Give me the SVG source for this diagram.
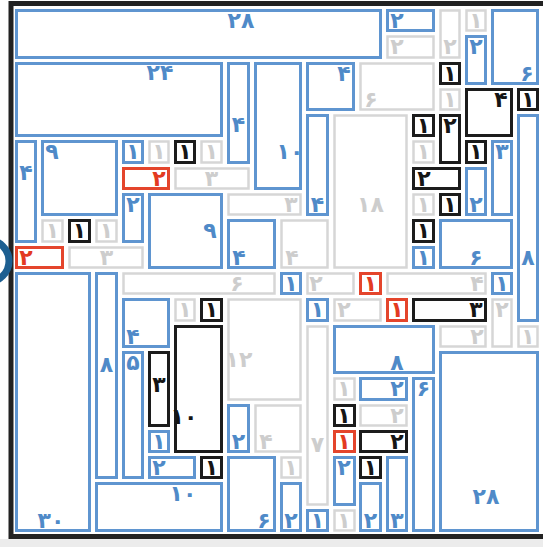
<svg xmlns="http://www.w3.org/2000/svg" width="543" height="547" viewBox="0 0 543 547">
<style>
rect{fill:none}
.b{stroke:#5f95d0;stroke-width:3}
.g{stroke:#d6d6d6;stroke-width:2.5}
.k{stroke:#1c1c1c;stroke-width:3}
.r{stroke:#e4452c;stroke-width:3}
text{font-family:"DejaVu Sans","Noto Sans",sans-serif;font-size:22px;font-weight:bold;text-anchor:middle}
.tb{fill:#4f8ac8}.tg{fill:#cdcdcd}.tk{fill:#151515}.tr{fill:#e33a22}
</style>
<rect x="0" y="0" width="543" height="547" style="fill:#ffffff"/>
<rect x="0" y="539" width="543" height="8" style="fill:#ececec"/>
<rect x="11" y="3.5" width="540" height="533" style="fill:none;stroke:#222;stroke-width:5"/>
<circle cx="-12" cy="261" r="21" style="fill:none;stroke:#1d5f91;stroke-width:7"/>
<g id="connectors"></g>
<g id="n1"><rect class="b" x="16.5" y="10.5" width="364" height="47"/><text class="tb" x="241" y="28">۲۸</text></g>
<g id="n2"><rect class="b" x="387.5" y="10.5" width="46" height="20"/><text class="tb" x="397" y="27.5">۲</text></g>
<g id="n3"><rect class="g" x="387.5" y="36.5" width="46" height="21"/><text class="tg" x="397" y="53.5">۲</text></g>
<g id="n4"><rect class="g" x="440.5" y="10.5" width="19" height="47"/><text class="tg" x="450" y="53.5">۲</text></g>
<g id="n5"><rect class="g" x="466.5" y="10.5" width="19" height="20"/><text class="tg" x="476" y="27.5">۱</text></g>
<g id="n6"><rect class="b" x="466.5" y="36.5" width="19" height="47"/><text class="tb" x="476" y="53.5">۲</text></g>
<g id="n7"><rect class="b" x="492.5" y="10.5" width="45" height="73"/><text class="tb" x="527" y="80.5">۶</text></g>
<g id="n8"><rect class="b" x="16.5" y="63.5" width="205" height="72"/><text class="tb" x="160" y="80">۲۴</text></g>
<g id="n9"><rect class="b" x="228.5" y="63.5" width="20" height="99"/><text class="tb" x="238.5" y="132">۴</text></g>
<g id="n10"><rect class="b" x="255.5" y="63.5" width="45" height="125"/><text class="tb" x="290" y="158.5">۱۰</text></g>
<g id="n11"><rect class="b" x="307.5" y="63.5" width="46" height="46"/><text class="tb" x="344" y="80.5">۴</text></g>
<g id="n12"><rect class="g" x="360.5" y="63.5" width="73" height="46"/><text class="tg" x="371" y="106.5">۶</text></g>
<g id="n13"><rect class="k" x="440.5" y="63.5" width="19" height="20"/><text class="tk" x="450" y="80.5">۱</text></g>
<g id="n14"><rect class="g" x="440.5" y="89.5" width="19" height="20"/><text class="tg" x="450" y="106.5">۱</text></g>
<g id="n15"><rect class="k" x="466.5" y="89.5" width="45" height="46"/><text class="tk" x="501" y="106.5">۴</text></g>
<g id="n16"><rect class="k" x="518.5" y="89.5" width="19" height="20"/><text class="tk" x="528" y="106.5">۱</text></g>
<g id="n17"><rect class="b" x="518.5" y="115.5" width="19" height="205"/><text class="tb" x="528" y="264.5">۸</text></g>
<g id="n18"><rect class="k" x="413.5" y="115.5" width="20" height="20"/><text class="tk" x="423.5" y="132.5">۱</text></g>
<g id="n19"><rect class="k" x="440.5" y="115.5" width="19" height="47"/><text class="tk" x="450" y="132.5">۲</text></g>
<g id="n20"><rect class="g" x="413.5" y="141.5" width="20" height="21"/><text class="tg" x="423.5" y="158.5">۱</text></g>
<g id="n21"><rect class="k" x="466.5" y="141.5" width="19" height="21"/><text class="tk" x="476" y="158.5">۱</text></g>
<g id="n22"><rect class="b" x="492.5" y="141.5" width="19" height="73"/><text class="tb" x="502" y="158.5">۳</text></g>
<g id="n23"><rect class="k" x="413.5" y="168.5" width="46" height="20"/><text class="tk" x="424" y="185.5">۲</text></g>
<g id="n24"><rect class="b" x="466.5" y="168.5" width="19" height="46"/><text class="tb" x="476" y="211.5">۲</text></g>
<g id="n25"><rect class="g" x="413.5" y="194.5" width="20" height="20"/><text class="tg" x="423.5" y="211.5">۱</text></g>
<g id="n26"><rect class="k" x="440.5" y="194.5" width="19" height="20"/><text class="tk" x="450" y="211.5">۱</text></g>
<g id="n27"><rect class="k" x="413.5" y="220.5" width="20" height="21"/><text class="tk" x="423.5" y="237.5">۱</text></g>
<g id="n28"><rect class="b" x="413.5" y="247.5" width="20" height="20"/><text class="tb" x="423.5" y="264.5">۱</text></g>
<g id="n29"><rect class="b" x="440.5" y="220.5" width="71" height="47"/><text class="tb" x="476" y="264.5">۶</text></g>
<g id="n30"><rect class="g" x="334.5" y="115.5" width="72" height="152"/><text class="tg" x="370.5" y="211.5">۱۸</text></g>
<g id="n31"><rect class="b" x="307.5" y="115.5" width="20" height="99"/><text class="tb" x="317.5" y="211.5">۴</text></g>
<g id="n32"><rect class="g" x="228.5" y="194.5" width="72" height="20"/><text class="tg" x="291" y="211.5">۳</text></g>
<g id="n33"><rect class="g" x="281.5" y="220.5" width="46" height="47"/><text class="tg" x="292" y="264.5">۴</text></g>
<g id="n34"><rect class="b" x="228.5" y="220.5" width="46" height="47"/><text class="tb" x="239" y="264.5">۴</text></g>
<g id="n35"><rect class="b" x="16.5" y="141.5" width="19" height="100"/><text class="tb" x="26" y="180">۴</text></g>
<g id="n36"><rect class="b" x="42.5" y="141.5" width="74" height="73"/><text class="tb" x="52" y="158.5">۹</text></g>
<g id="n37"><rect class="b" x="123.5" y="141.5" width="19" height="21"/><text class="tb" x="133" y="158.5">۱</text></g>
<g id="n38"><rect class="g" x="149.5" y="141.5" width="19" height="21"/><text class="tg" x="159" y="158.5">۱</text></g>
<g id="n39"><rect class="k" x="175.5" y="141.5" width="19" height="21"/><text class="tk" x="185" y="158.5">۱</text></g>
<g id="n40"><rect class="g" x="201.5" y="141.5" width="20" height="21"/><text class="tg" x="211.5" y="158.5">۱</text></g>
<g id="n41"><rect class="r" x="123.5" y="168.5" width="45" height="20"/><text class="tr" x="159" y="185.5">۲</text></g>
<g id="n42"><rect class="g" x="175.5" y="168.5" width="73" height="20"/><text class="tg" x="211.5" y="185.5">۳</text></g>
<g id="n43"><rect class="b" x="123.5" y="194.5" width="19" height="47"/><text class="tb" x="133" y="211.5">۲</text></g>
<g id="n44"><rect class="b" x="149.5" y="194.5" width="72" height="73"/><text class="tb" x="210" y="237.5">۹</text></g>
<g id="n45"><rect class="g" x="42.5" y="220.5" width="20" height="21"/><text class="tg" x="52.5" y="237.5">۱</text></g>
<g id="n46"><rect class="k" x="69.5" y="220.5" width="20" height="21"/><text class="tk" x="79.5" y="237.5">۱</text></g>
<g id="n47"><rect class="g" x="96.5" y="220.5" width="20" height="21"/><text class="tg" x="106.5" y="237.5">۱</text></g>
<g id="n48"><rect class="r" x="16.5" y="247.5" width="46" height="20"/><text class="tr" x="26" y="264.5">۲</text></g>
<g id="n49"><rect class="g" x="69.5" y="247.5" width="73" height="20"/><text class="tg" x="106.5" y="264.5">۳</text></g>
<g id="n50"><rect class="b" x="16.5" y="273.5" width="73" height="257"/><text class="tb" x="51" y="527.5">۳۰</text></g>
<g id="n51"><rect class="b" x="96.5" y="273.5" width="20" height="204"/><text class="tb" x="106.5" y="372">۸</text></g>
<g id="n52"><rect class="g" x="123.5" y="273.5" width="151" height="20"/><text class="tg" x="237" y="290.5">۶</text></g>
<g id="n53"><rect class="b" x="281.5" y="273.5" width="19" height="20"/><text class="tb" x="291" y="290.5">۱</text></g>
<g id="n54"><rect class="g" x="307.5" y="273.5" width="46" height="20"/><text class="tg" x="316" y="290.5">۲</text></g>
<g id="n55"><rect class="r" x="360.5" y="273.5" width="20" height="20"/><text class="tr" x="370.5" y="290.5">۱</text></g>
<g id="n56"><rect class="g" x="387.5" y="273.5" width="98" height="20"/><text class="tg" x="477" y="290.5">۴</text></g>
<g id="n57"><rect class="b" x="492.5" y="273.5" width="19" height="20"/><text class="tb" x="502" y="290.5">۱</text></g>
<g id="n58"><rect class="b" x="123.5" y="299.5" width="45" height="47"/><text class="tb" x="133" y="343.5">۴</text></g>
<g id="n59"><rect class="g" x="175.5" y="299.5" width="19" height="21"/><text class="tg" x="185" y="316.5">۱</text></g>
<g id="n60"><rect class="k" x="201.5" y="299.5" width="20" height="21"/><text class="tk" x="211.5" y="316.5">۱</text></g>
<g id="n61"><rect class="g" x="228.5" y="299.5" width="72" height="100"/><text class="tg" x="239" y="367">۱۲</text></g>
<g id="n62"><rect class="b" x="307.5" y="299.5" width="20" height="21"/><text class="tb" x="317.5" y="316.5">۱</text></g>
<g id="n63"><rect class="g" x="334.5" y="299.5" width="46" height="21"/><text class="tg" x="344" y="316.5">۲</text></g>
<g id="n64"><rect class="r" x="387.5" y="299.5" width="19" height="21"/><text class="tr" x="397" y="316.5">۱</text></g>
<g id="n65"><rect class="k" x="413.5" y="299.5" width="72" height="21"/><text class="tk" x="476" y="316.5">۳</text></g>
<g id="n66"><rect class="g" x="492.5" y="299.5" width="19" height="47"/><text class="tg" x="502" y="316.5">۲</text></g>
<g id="n67"><rect class="g" x="440.5" y="326.5" width="45" height="20"/><text class="tg" x="477" y="343.5">۲</text></g>
<g id="n68"><rect class="g" x="518.5" y="326.5" width="19" height="20"/><text class="tg" x="528" y="343.5">۱</text></g>
<g id="n69"><rect class="b" x="334.5" y="326.5" width="99" height="46"/><text class="tb" x="397" y="369.5">۸</text></g>
<g id="n70"><rect class="g" x="307.5" y="326.5" width="20" height="178"/><text class="tg" x="317.5" y="452">۷</text></g>
<g id="n71"><rect class="b" x="123.5" y="352.5" width="19" height="125"/><text class="tb" x="133" y="369.5">۵</text></g>
<g id="n72"><rect class="k" x="149.5" y="352.5" width="19" height="73"/><text class="tk" x="159" y="392">۳</text></g>
<g id="n73"><rect class="k" x="175.5" y="326.5" width="46" height="125"/><text class="tk" x="184" y="424">۱۰</text></g>
<g id="n74"><rect class="b" x="440.5" y="352.5" width="97" height="178"/><text class="tb" x="486" y="504">۲۸</text></g>
<g id="n75"><rect class="g" x="334.5" y="378.5" width="20" height="21"/><text class="tg" x="344" y="395.5">۱</text></g>
<g id="n76"><rect class="b" x="360.5" y="378.5" width="46" height="21"/><text class="tb" x="397" y="395.5">۲</text></g>
<g id="n77"><rect class="b" x="413.5" y="378.5" width="20" height="152"/><text class="tb" x="423.5" y="395.5">۶</text></g>
<g id="n78"><rect class="b" x="149.5" y="431.5" width="19" height="20"/><text class="tb" x="159" y="448.5">۱</text></g>
<g id="n79"><rect class="b" x="149.5" y="457.5" width="45" height="20"/><text class="tb" x="159" y="474.5">۲</text></g>
<g id="n80"><rect class="k" x="201.5" y="457.5" width="20" height="20"/><text class="tk" x="211.5" y="474.5">۱</text></g>
<g id="n81"><rect class="b" x="96.5" y="483.5" width="125" height="47"/><text class="tb" x="183" y="501">۱۰</text></g>
<g id="n82"><rect class="b" x="228.5" y="405.5" width="20" height="46"/><text class="tb" x="238.5" y="448.5">۲</text></g>
<g id="n83"><rect class="g" x="255.5" y="405.5" width="45" height="46"/><text class="tg" x="266" y="448.5">۴</text></g>
<g id="n84"><rect class="b" x="228.5" y="457.5" width="46" height="73"/><text class="tb" x="264" y="527.5">۶</text></g>
<g id="n85"><rect class="g" x="281.5" y="457.5" width="19" height="20"/><text class="tg" x="291" y="474.5">۱</text></g>
<g id="n86"><rect class="b" x="281.5" y="483.5" width="19" height="47"/><text class="tb" x="291" y="527.5">۲</text></g>
<g id="n87"><rect class="b" x="307.5" y="510.5" width="20" height="20"/><text class="tb" x="317.5" y="527.5">۱</text></g>
<g id="n88"><rect class="k" x="334.5" y="405.5" width="20" height="20"/><text class="tk" x="344" y="422.5">۱</text></g>
<g id="n89"><rect class="g" x="360.5" y="405.5" width="46" height="20"/><text class="tg" x="397" y="422.5">۲</text></g>
<g id="n90"><rect class="r" x="334.5" y="431.5" width="20" height="20"/><text class="tr" x="344" y="448.5">۱</text></g>
<g id="n91"><rect class="k" x="360.5" y="431.5" width="46" height="20"/><text class="tk" x="397" y="448.5">۲</text></g>
<g id="n92"><rect class="b" x="334.5" y="457.5" width="20" height="47"/><text class="tb" x="344" y="474.5">۲</text></g>
<g id="n93"><rect class="g" x="334.5" y="510.5" width="20" height="20"/><text class="tg" x="344" y="527.5">۱</text></g>
<g id="n94"><rect class="k" x="360.5" y="457.5" width="20" height="20"/><text class="tk" x="370.5" y="474.5">۱</text></g>
<g id="n95"><rect class="b" x="360.5" y="483.5" width="20" height="47"/><text class="tb" x="370.5" y="527.5">۲</text></g>
<g id="n96"><rect class="b" x="387.5" y="457.5" width="19" height="73"/><text class="tb" x="397" y="527.5">۳</text></g>
</svg>
